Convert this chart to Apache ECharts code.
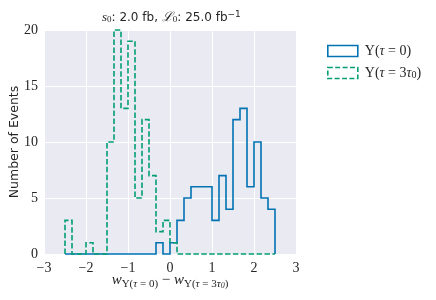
<!DOCTYPE html>
<html>
<head>
<meta charset="utf-8">
<script src="https://cdn.jsdelivr.net/npm/echarts@6/dist/echarts.min.js"></script>
<style>html,body{margin:0;padding:0;background:#fff}#c{width:436px;height:300px}</style>
</head>
<body>
<div id="c"></div>
<script>
// Histogram bins: 30 bins from -2.5 to 2.5
const binStart = -2.5;
const binWidth = 1 / 6;
const blueCounts  = [0,0,0,0,0,0,0,0,0,0,0,0,0,1,0,1,3,5,6,6,6,3,7,4,12,13,6,10,5,4];
const greenCounts = [3,0,0,1,0,0,10,20,13,19,5,12,7,2,3,1,0,0,0,0,0,0,0,0,0,0,0,0,0,0];
const xTicks = [-3, -2, -1, 0, 1, 2, 3];
const yTicks = [0, 5, 10, 15, 20];
const seriesNames = ['Υ(τ = 0)', 'Υ(τ = 3τ0)'];
const colors = ['#0173B2', '#029E73'];

function outline(counts) {
  const pts = [[binStart, 0]];
  counts.forEach((c, k) => {
    const l = binStart + k * binWidth, r = binStart + (k + 1) * binWidth;
    pts.push([l, c], [r, c]);
  });
  pts.push([binStart + counts.length * binWidth, 0]);
  return pts;
}

const chart = echarts.init(document.getElementById('c'), null, {renderer: 'canvas'});
const serif = 'Liberation Serif';
const sans = 'DejaVu Sans';
const ink = '#262626';
chart.setOption({
  animation: false,
  backgroundColor: '#ffffff',
  title: {
    text: '{i|s}{sub|0}{n|: 2.0 fb, }{c|ℒ}{sub|0}{n|: 25.0 fb}{sup|−1}',
    left: 97, top: 5,
    textStyle: {
      fontWeight: 'normal',
      rich: {
        i: {fontFamily: serif, fontStyle: 'italic', fontWeight: 'normal', fontSize: 13, color: ink},
        n: {fontFamily: sans, fontWeight: 'normal', fontSize: 12, color: ink},
        c: {fontFamily: serif, fontStyle: 'italic', fontWeight: 'normal', fontSize: 13, color: ink},
        sub: {fontFamily: serif, fontWeight: 'normal', fontSize: 9, color: ink, padding: [5, 0, 0, 0]},
        sup: {fontFamily: sans, fontWeight: 'normal', fontSize: 9, color: ink, padding: [0, 0, 6, 0]}
      }
    }
  },
  grid: {left: 44, right: 140, top: 30, bottom: 46, show: true, backgroundColor: '#EAEAF2', borderWidth: 0,
         containLabel: false, outerBoundsMode: 'none'},
  legend: {
    left: 322, top: 39, orient: 'vertical', itemWidth: 30, itemHeight: 11, itemGap: 8,
    icon: 'rect',
    data: [
      {name: seriesNames[0], icon: 'rect', itemStyle: {color: 'rgba(0,0,0,0)', borderColor: colors[0], borderWidth: 1.6, borderType: 'solid'}},
      {name: seriesNames[1], icon: 'rect', itemStyle: {color: 'rgba(0,0,0,0)', borderColor: colors[1], borderWidth: 1.6, borderType: [5, 2.4]}}
    ],
    formatter: function (name) {
      return name === seriesNames[0]
        ? '{r|Υ(}{i|τ}{r| = 0)}'
        : '{r|Υ(}{i|τ}{r| = 3}{i|τ}{s|0}{r|)}';
    },
    textStyle: {
      padding: [0, 0, 0, 2],
      rich: {
        r: {fontFamily: serif, fontSize: 14, color: ink},
        i: {fontFamily: serif, fontStyle: 'italic', fontSize: 14, color: ink},
        s: {fontFamily: serif, fontSize: 10, color: ink, padding: [5, 0, 0, 0]}
      }
    }
  },
  xAxis: {
    type: 'value', min: xTicks[0], max: xTicks[xTicks.length - 1], interval: 1,
    axisLine: {show: false}, axisTick: {show: false},
    splitLine: {show: true, lineStyle: {color: '#ffffff', width: 1}},
    axisLabel: {
      margin: 7, fontFamily: serif, fontSize: 14, color: ink,
      formatter: v => (v < 0 ? '−' + (-v) : String(v))
    },
    name: '{w|w}{s|Υ(}{si|τ}{s| = 0)}{m| − }{w|w}{s|Υ(}{si|τ}{s| = 3}{si|τ}{ss|0}{s|)}',
    nameLocation: 'middle', nameGap: 17, nameMoveOverlap: false,
    nameTextStyle: {
      rich: {
        w: {fontFamily: serif, fontStyle: 'italic', fontSize: 15, color: ink},
        m: {fontFamily: serif, fontSize: 15, color: ink},
        s: {fontFamily: serif, fontSize: 11, color: ink, padding: [7, 0, 0, 0]},
        si: {fontFamily: serif, fontStyle: 'italic', fontSize: 11, color: ink, padding: [7, 0, 0, 0]},
        ss: {fontFamily: serif, fontStyle: 'italic', fontSize: 8, color: ink, padding: [11, 0, 0, 0]}
      }
    }
  },
  yAxis: {
    type: 'value', min: yTicks[0], max: yTicks[yTicks.length - 1], interval: 5,
    axisLine: {show: false}, axisTick: {show: false},
    splitLine: {show: true, lineStyle: {color: '#ffffff', width: 1}},
    axisLabel: {margin: 6, fontFamily: serif, fontSize: 14, color: ink},
    name: 'Number of Events', nameLocation: 'middle', nameGap: 23, nameMoveOverlap: false,
    nameTextStyle: {fontFamily: sans, fontSize: 12.5, color: ink}
  },
  series: [
    {
      name: seriesNames[0], type: 'line', data: outline(blueCounts), showSymbol: false, symbol: 'none',
      clip: false, color: colors[0],
      lineStyle: {color: colors[0], width: 1.6, join: 'miter', cap: 'butt'}, z: 2
    },
    {
      name: seriesNames[1], type: 'line', data: outline(greenCounts), showSymbol: false, symbol: 'none',
      clip: false, color: colors[1],
      lineStyle: {color: colors[1], width: 1.6, type: [5.5, 2.4], join: 'miter', cap: 'butt'}, z: 3
    }
  ]
});
</script>
</body>
</html>
